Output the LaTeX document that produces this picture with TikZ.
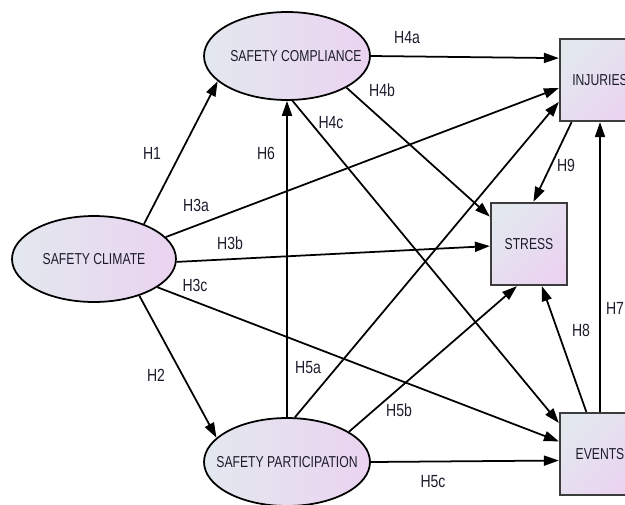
\documentclass[tikz,border=0pt]{standalone}
\usepackage{fontspec}
\setmainfont{Liberation Sans}
\newfontfamily\narrowsans[FakeStretch=0.77]{Liberation Sans}
\newfontfamily\labelsans[FakeStretch=0.8]{Liberation Sans}
\usetikzlibrary{positioning, arrows.meta, shapes.geometric}
\definecolor{shadeleft}{HTML}{E3E8EF}
\definecolor{shaderight}{HTML}{EAD3F0}
\definecolor{boxborder}{HTML}{3C3C3C}
\definecolor{labeltext}{HTML}{1C1C2C}

\begin{document}
\begin{tikzpicture}[
  x=0.02cm, y=-0.02cm,
  font=\narrowsans\fontsize{9}{11}\selectfont,
  text=labeltext,
  % Estilos de constructos
  construct/.style={draw, ellipse, line width=1pt, inner sep=0pt, minimum width=3.32cm, minimum height=1.76cm, left color=shadeleft, right color=shaderight},
  outcome/.style={draw=boxborder, rectangle, line width=1.3pt, inner sep=0pt, minimum width=1.6cm, minimum height=1.64cm, left color=shadeleft, right color=shaderight, shading angle=45},
  hyp/.style={font=\labelsans\fontsize{10}{12}\selectfont, inner sep=1pt},
  % Estilo de flechas
  line/.style={draw, -{Triangle[length=8.5pt, width=5.7pt]}, line width=1pt}
]
  \useasboundingbox (0,0) rectangle (625,504);
  \clip (0,0) rectangle (625,504);

  % ==========================================
  % CONSTRUCTS (ELLIPSES)
  % ==========================================
  \node[construct, minimum width=3.28cm, minimum height=1.72cm] (climate) at (94,259) {\makebox[0pt]{SAFETY CLIMATE}};
  \node[construct] (compliance) at (287,56) {\makebox[0pt]{\hspace{0.36cm}SAFETY COMPLIANCE}};
  \node[construct] (participation) at (287,462) {\makebox[0pt]{SAFETY PARTICIPATION}};

  % ==========================================
  % OUTCOMES (BOXES)
  % ==========================================
  \node[outcome] (injuries) at (600,80) {INJURIES};
  \node[outcome, minimum width=1.52cm] (stress) at (529,244) {STRESS};
  \node[outcome] (events) at (600,454) {EVENTS};

  % ==========================================
  % HYPOTHESES
  % ==========================================
  \draw[line] (climate.35) -- (compliance.200);
  \draw[line] (climate.-39) -- (participation.161);
  \draw[line] (climate.17) -- (injuries.191);
  \draw[line] (climate.-2) -- (stress.183);
  \draw[line] (climate.-24) -- (events.163);
  \draw[line] (compliance.0) -- (injuries.152);
  \draw[line] (compliance.-28) -- (stress.145);
  \draw[line] (compliance.-83) -- (events.143);
  \draw[line] (participation.80) -- (injuries.208);
  \draw[line] (participation.26) -- (stress.254);
  \draw[line] (participation.0) -- (events.189);
  \draw[line] (participation) -- (compliance);
  \draw[line] (events) -- (injuries);
  \draw[line] (events.108) -- (stress.287);
  \draw[line] (injuries.236) -- (stress.84);

  % Etiquetas
  \node[hyp] (h1) at (152,153) {H1};
  \node[hyp] (h2) at (156,375) {H2};
  \node[hyp] (h3a) at (196,205) {H3a};
  \node[hyp] (h3b) at (230,243) {H3b};
  \node[hyp] (h3c) at (195,285) {H3c};
  \node[hyp] (h4a) at (407,38) {H4a};
  \node[hyp] (h4b) at (382,90) {H4b};
  \node[hyp] (h4c) at (331,123) {H4c};
  \node[hyp] (h5a) at (308,368) {H5a};
  \node[hyp] (h5b) at (399,410) {H5b};
  \node[hyp] (h5c) at (433,482) {H5c};
  \node[hyp] (h6) at (266,153) {H6};
  \node[hyp] (h7) at (615,308) {H7};
  \node[hyp] (h8) at (581,330) {H8};
  \node[hyp] (h9) at (566,165) {H9};

\end{tikzpicture}
\end{document}
